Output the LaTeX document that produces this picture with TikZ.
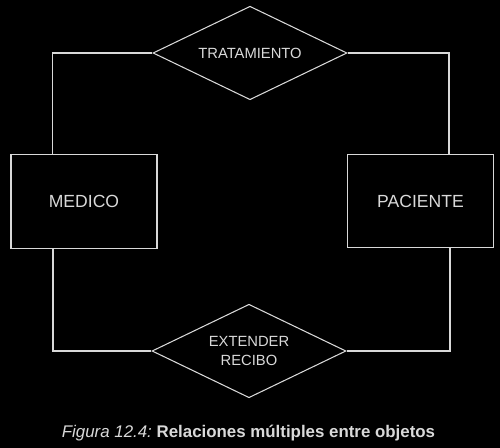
\documentclass[tikz,border=0pt]{standalone}
\usepackage{fontspec}
\setmainfont{Liberation Sans}
\usetikzlibrary{shapes.geometric}
\tikzset{
    entidad/.style={draw=lin,line width=0.6pt,text=lin,inner sep=0pt,minimum width=2.92cm,minimum height=1.87cm,font=\fontsize{10}{12}\selectfont},
    relacion/.style={diamond,aspect=2.1,draw=lin,line width=0.6pt,text=lin,inner sep=0pt,minimum width=3.88cm,minimum height=1.87cm,align=center,font=\fontsize{8.4}{10.5}\selectfont},
    enlace/.style={draw=lin,line width=0.6pt}
}
\colorlet{lin}{white!85!black}
\begin{document}
\begin{tikzpicture}
    
    \fill[black] (0,0) rectangle (10,-8.96);
    \useasboundingbox (0,0) rectangle (10,-8.96);
    
    \node[relacion] (tratamiento) at (5.0,-1.06) {TRATAMIENTO};
    \node[relacion] (extender) at (4.98,-7.02) {EXTENDER\\RECIBO};
    \node[entidad] (medico) at (1.68,-4.03) {MEDICO};
    \node[entidad] (paciente) at (8.41,-4.02) {PACIENTE};
    
    \coordinate (tizq) at (1.05,-1.06);
    \coordinate (tder) at (8.98,-1.06);
    \coordinate (bizq) at (1.06,-7.0);
    \coordinate (bder) at (9.0,-7.0);
    
    \draw[enlace] (tratamiento.west) -- (tizq) -- (tizq |- medico.north);
    \draw[enlace] (tratamiento.east) -- (tder) -- (tder |- paciente.north);
    \draw[enlace] (extender.west) -- (extender.west -| bizq) -- (bizq |- medico.south);
    \draw[enlace] (extender.east) -- (extender.east -| bder) -- (bder |- paciente.south);
    
    \node[text=lin,font=\fontsize{9.6}{11}\selectfont] (pie) at (4.97,-8.66)
    {\itshape Figura 12.4:\upshape\ \bfseries Relaciones múltiples entre objetos};
   
\end{tikzpicture}
\end{document}
